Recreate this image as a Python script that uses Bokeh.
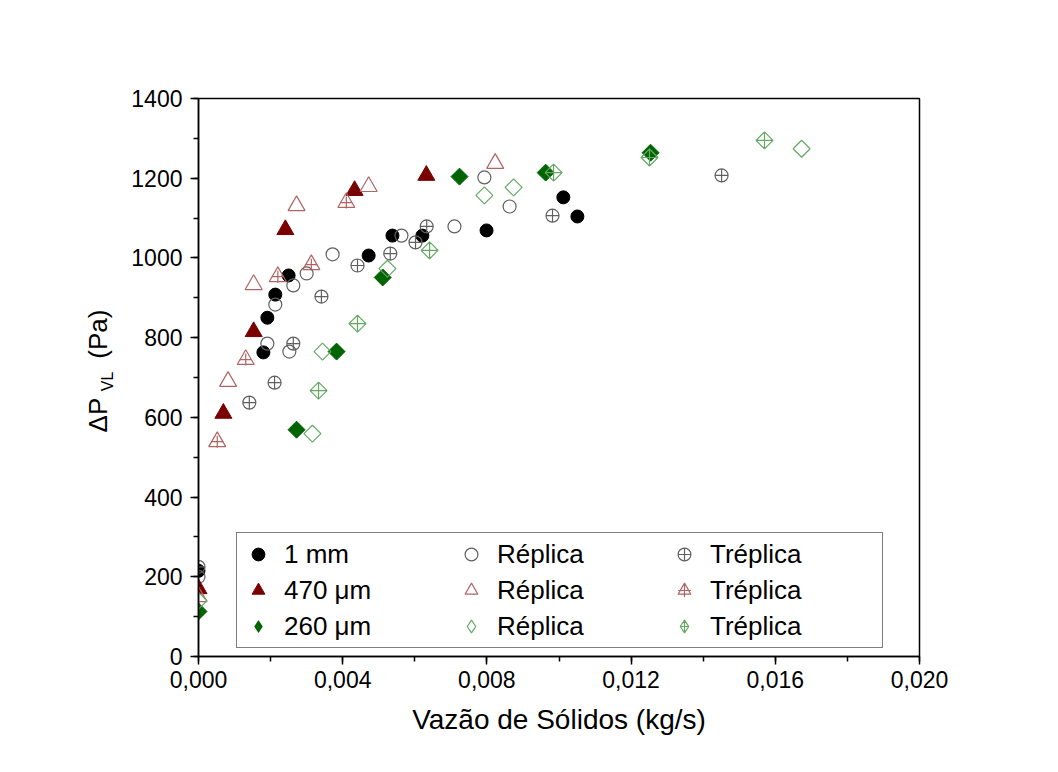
import math
from bokeh.plotting import figure
from bokeh.models import (Legend, LegendItem, CustomJSTickFormatter, LinearAxis,
                          Range1d, SingleIntervalTicker, FixedTicker)
from bokeh.embed import file_html
from bokeh.resources import INLINE

# ---------------- data ----------------
x_1mm = [0.0, 0.00180, 0.00191, 0.00213, 0.00250, 0.00472, 0.00538, 0.00621, 0.00799, 0.01012, 0.01051]
y_1mm = [215, 763, 850, 908, 956, 1006, 1056, 1056, 1069, 1152, 1104]
x_1mm_rep = [0.0, 0.00191, 0.00213, 0.00252, 0.00263, 0.00300, 0.00372, 0.00563, 0.00710, 0.00793, 0.00863]
y_1mm_rep = [200, 785, 883, 765, 931, 961, 1009, 1056, 1079, 1202, 1129]
x_1mm_trep = [0.0, 0.00141, 0.00211, 0.00263, 0.00341, 0.00441, 0.00532, 0.00602, 0.00633, 0.00982, 0.01451]
y_1mm_trep = [225, 637, 687, 785, 903, 981, 1011, 1039, 1079, 1106, 1207]

x_470 = [0.0, 0.00069, 0.00153, 0.00241, 0.00433, 0.00632]
y_470 = [170, 610, 815, 1071, 1169, 1207]
x_470_rep = [0.0, 0.00082, 0.00153, 0.00272, 0.00472, 0.00823]
y_470_rep = [150, 690, 933, 1131, 1179, 1237]
x_470_trep = [0.00052, 0.00131, 0.00220, 0.00313, 0.00410]
y_470_trep = [539, 745, 953, 983, 1139]

x_260 = [0.0, 0.00272, 0.00383, 0.00511, 0.00724, 0.00963, 0.01254]
y_260 = [113, 569, 765, 951, 1204, 1214, 1264]
x_260_rep = [0.0, 0.00316, 0.00344, 0.00524, 0.00793, 0.00874, 0.01673]
y_260_rep = [140, 559, 765, 973, 1157, 1177, 1274]
x_260_trep = [0.00333, 0.00441, 0.00641, 0.00985, 0.01251, 0.01570]
y_260_trep = [667, 835, 1019, 1214, 1252, 1295]

x_ticks_interval = 0.004
y_ticks_interval = 200

FONT = "Liberation Sans"
RED = "#7A0000"
GREEN = "#006400"
GREY = "#606060"
RED_L = "#B06464"
GREEN_L = "#64A864"

p = figure(width=1040, height=756, output_backend="svg", toolbar_location=None,
           x_range=Range1d(0, 0.020), y_range=Range1d(0, 1400),
           min_border_left=198, min_border_right=121, min_border_top=98,
           min_border_bottom=100)
p.background_fill_color = "white"
p.border_fill_color = "white"
p.outline_line_color = "black"
p.outline_line_width = 1.5
p.grid.visible = False

# axes
p.xaxis.ticker = SingleIntervalTicker(interval=x_ticks_interval, num_minor_ticks=2)
p.yaxis.ticker = SingleIntervalTicker(interval=y_ticks_interval, num_minor_ticks=2)
p.xaxis.formatter = CustomJSTickFormatter(code="return tick.toFixed(3).replace('.', ',');")
for ax in (p.xaxis, p.yaxis):
    ax.axis_line_width = 1.5
    ax.axis_line_color = "black"
    ax.major_tick_line_width = 1.5
    ax.minor_tick_line_width = 1.5
    ax.major_tick_line_color = "black"
    ax.minor_tick_line_color = "black"
    ax.major_tick_out = 8
    ax.major_tick_in = 0
    ax.minor_tick_out = 5
    ax.minor_tick_in = 0
    ax.major_label_text_font = FONT
    ax.major_label_text_font_size = "23px"
    ax.major_label_text_color = "black"
p.xaxis.major_label_standoff = 6
p.yaxis.major_label_standoff = 8
p.xaxis.axis_label = "Vazão de Sólidos (kg/s)"
p.xaxis.axis_label_text_font = FONT
p.xaxis.axis_label_text_font_size = "28px"
p.xaxis.axis_label_text_font_style = "normal"
p.xaxis.axis_label_text_color = "black"
p.xaxis.axis_label_standoff = 13

# y title: subscript "VL" on the main axis, "ΔP   (Pa)" on an outer bare axis
p.yaxis.axis_label = "VL\u2002"
p.yaxis.axis_label_text_font = FONT
p.yaxis.axis_label_text_font_size = "16px"
p.yaxis.axis_label_text_font_style = "normal"
p.yaxis.axis_label_text_color = "black"
p.yaxis.axis_label_standoff = 12

ytitle = LinearAxis(ticker=FixedTicker(ticks=[]), axis_line_color=None,
                    major_tick_line_color=None, minor_tick_line_color=None,
                    axis_label="\u2002ΔP\u2002\u2002\u2002(Pa)", axis_label_text_font=FONT,
                    axis_label_text_font_size="26px", axis_label_text_font_style="normal",
                    axis_label_text_color="black", axis_label_standoff=-16)
p.add_layout(ytitle, "left")

A = math.pi / 4

# 1 mm
r1 = p.scatter(x_1mm, y_1mm, marker="circle", size=13, fill_color="black", line_color="black")
r1r = p.scatter(x_1mm_rep, y_1mm_rep, marker="circle", size=13, fill_color=None,
                line_color=GREY, line_width=1.2)
r1t = p.scatter(x_1mm_trep, y_1mm_trep, marker="circle_cross", size=13, fill_color=None,
                line_color=GREY, line_width=1.2)
# 470 um
r2 = p.scatter(x_470, y_470, marker="triangle", size=17, fill_color=RED, line_color=RED)
r2r = p.scatter(x_470_rep, y_470_rep, marker="triangle", size=17, fill_color=None,
                line_color=RED_L, line_width=1.2)
r2t = p.scatter(x_470_trep, y_470_trep, marker="triangle", size=17, fill_color=None,
                line_color=RED_L, line_width=1.2)
r2tc = p.scatter(x_470_trep, y_470_trep, marker="cross", size=12,
                 line_color=RED_L, line_width=1.2)
# 260 um (diamonds drawn as rotated squares)
r3 = p.scatter(x_260, y_260, marker="square", angle=A, size=12, fill_color=GREEN, line_color=GREEN)
r3r = p.scatter(x_260_rep, y_260_rep, marker="square", angle=A, size=12, fill_color=None,
                line_color=GREEN_L, line_width=1.2)
r3t = p.scatter(x_260_trep, y_260_trep, marker="square_x", angle=A, size=12, fill_color=None,
                line_color=GREEN_L, line_width=1.2)

# legend proxies for the diamonds (zero size in the plot; legend sizes its own glyphs)
l3 = p.scatter(x_260, y_260, marker="diamond", size=0, fill_color=GREEN, line_color=None)
l3r = p.scatter(x_260_rep, y_260_rep, marker="diamond", size=0, fill_color=None,
                line_color=GREEN_L, line_width=1.2)
l3t = p.scatter(x_260_trep, y_260_trep, marker="diamond_cross", size=0, fill_color=None,
                line_color=GREEN_L, line_width=1.2)

legend = Legend(items=[
    LegendItem(label="1 mm", renderers=[r1]),
    LegendItem(label="470 μm", renderers=[r2]),
    LegendItem(label="260 μm", renderers=[l3]),
    LegendItem(label="Réplica", renderers=[r1r]),
    LegendItem(label="Réplica", renderers=[r2r]),
    LegendItem(label="Réplica", renderers=[l3r]),
    LegendItem(label="Tréplica", renderers=[r1t]),
    LegendItem(label="Tréplica", renderers=[r2t, r2tc]),
    LegendItem(label="Tréplica", renderers=[l3t]),
], location=(38, 8), orientation="vertical", nrows=3)
legend.label_text_font = FONT
legend.label_text_font_size = "26px"
legend.label_text_color = "black"
legend.border_line_color = "black"
legend.border_line_width = 1.5
legend.background_fill_alpha = 1.0
legend.padding = 5
legend.margin = 0
legend.spacing = 4
legend.glyph_width = 32
legend.glyph_height = 32
legend.label_height = 32
legend.label_width = 167
legend.label_standoff = 10
p.add_layout(legend, "center")

open("out.html", "w").write(file_html(p, INLINE))
